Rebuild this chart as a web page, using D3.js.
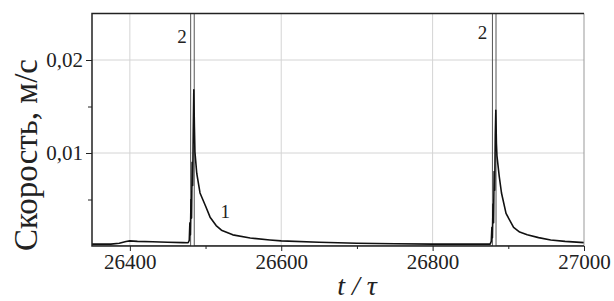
<!DOCTYPE html>
<html>
<head>
<meta charset="utf-8">
<script src="https://cdn.jsdelivr.net/npm/d3@7"></script>
<style>
  body { margin: 0; background: #fff; font-family: 'Liberation Serif', serif; }
</style>
</head>
<body>
<svg id="chart" width="614" height="301"></svg>
<script>
// curve 1 — velocity
const t1 = [26350, 26375, 26386, 26395, 26400, 26410, 26430, 26450, 26470, 26477,
  26478.5, 26479.3, 26480, 26480.8, 26481.5, 26482.3, 26483, 26483.8, 26484.5, 26485.3, 26486,
  26488.4, 26492.7, 26500, 26506, 26514, 26521, 26536, 26559, 26585, 26600, 26650, 26700, 26750,
  26800, 26850, 26876,
  26877.5, 26878.3, 26879, 26879.8, 26880.5, 26881.3, 26882, 26882.8, 26883.5, 26884.3, 26885,
  26888, 26891, 26897, 26907, 26915, 26925, 26940, 26956, 26975, 27000]
const v1 = [0.0002, 0.0002, 0.0003, 0.00048, 0.00055, 0.0005, 0.00045, 0.0004, 0.00036, 0.00035,
  0.0006, 0.0025, 0.0012, 0.005, 0.003, 0.009, 0.0065, 0.0125, 0.0168, 0.0128, 0.0101,
  0.0078, 0.0057, 0.0043, 0.0031, 0.0022, 0.0017, 0.0012, 0.00086, 0.00065, 0.00055, 0.0004, 0.0003, 0.00025,
  0.0002, 0.0002, 0.0002,
  0.0005, 0.002, 0.0009, 0.0045, 0.0025, 0.008, 0.006, 0.012, 0.0146, 0.011, 0.0097,
  0.0075, 0.0057, 0.0035, 0.002, 0.0015, 0.0012, 0.0009, 0.00065, 0.0005, 0.00036]

// curve 2 — off-scale spikes
const t2 = [26350, 26480.3, 26480.5, 26484.9, 26485.1, 26879, 26879.2, 26883.6, 26883.8, 27000]
const v2 = [0, 0, 0.1, 0.1, 0, 0, 0.1, 0.1, 0, 0]

const xMajor = [26400, 26600, 26800, 27000]
const xMinor = [26500, 26700, 26900]
const yMajor = [0.01, 0.02]
const yMinor = [0.005, 0.015]

const labels = [
  { text: '2', t: 26469, v: 0.0225 },
  { text: '2', t: 26866, v: 0.023 },
  { text: '1', t: 26526, v: 0.0037 }
]

const serif = 'Liberation Serif, serif'
const margin = { top: 13.5, right: 30, bottom: 55, left: 92 }
const width = 614
const height = 301

const x = d3.scaleLinear().domain([26350, 27000]).range([margin.left, width - margin.right])
const y = d3.scaleLinear().domain([0, 0.025]).range([height - margin.bottom, margin.top])

const svg = d3.select('#chart')
const fmt = d => d3.format('.2f')(d).replace('.', ',')

svg.append('defs').append('clipPath').attr('id', 'clip')
  .append('rect')
  .attr('x', x.range()[0]).attr('y', y.range()[1])
  .attr('width', x.range()[1] - x.range()[0]).attr('height', y.range()[0] - y.range()[1])

// grid
svg.append('g').selectAll('line').data(xMajor.slice(0, -1)).join('line')
  .attr('x1', d => x(d)).attr('x2', d => x(d))
  .attr('y1', y.range()[0]).attr('y2', y.range()[1])
  .attr('stroke', '#d4d4d4').attr('stroke-width', 1)
svg.append('g').selectAll('line').data(yMajor).join('line')
  .attr('x1', x.range()[0]).attr('x2', x.range()[1])
  .attr('y1', d => y(d)).attr('y2', d => y(d))
  .attr('stroke', '#d4d4d4').attr('stroke-width', 1)

// axes
const xAxis = svg.append('g').attr('transform', `translate(0,${y.range()[0]})`)
  .call(d3.axisBottom(x).tickValues(xMajor).tickSize(5).tickPadding(3).tickFormat(d3.format('d')))
  .attr('font-family', null)
xAxis.select('.domain').remove()
xAxis.selectAll('text').style('font-family', serif).style('font-size', '21px').attr('fill', '#222')
xAxis.selectAll('line').attr('stroke', '#222')
svg.append('g').attr('transform', `translate(0,${y.range()[0]})`)
  .call(d3.axisBottom(x).tickValues(xMinor).tickSize(3).tickFormat(''))
  .call(g => g.select('.domain').remove())
  .selectAll('line').attr('stroke', '#222')

const yAxis = svg.append('g').attr('transform', `translate(${x.range()[0]},0)`)
  .call(d3.axisLeft(y).tickValues(yMajor).tickSize(6).tickPadding(3).tickFormat(fmt))
  .attr('font-family', null)
yAxis.select('.domain').remove()
yAxis.selectAll('text').style('font-family', serif).style('font-size', '21px').attr('fill', '#222')
yAxis.selectAll('line').attr('stroke', '#222')
svg.append('g').attr('transform', `translate(${x.range()[0]},0)`)
  .call(d3.axisLeft(y).tickValues(yMinor).tickSize(4).tickFormat(''))
  .call(g => g.select('.domain').remove())
  .selectAll('line').attr('stroke', '#222')

// curves
const line = d3.line().x(d => x(d[0])).y(d => y(d[1]))
const plot = svg.append('g').attr('clip-path', 'url(#clip)')
plot.append('path').datum(d3.zip(t2, v2))
  .attr('d', line).attr('fill', 'none').attr('stroke', '#555').attr('stroke-width', 1)
plot.append('path').datum(d3.zip(t1, v1))
  .attr('d', line).attr('fill', 'none').attr('stroke', '#111').attr('stroke-width', 1.6)
  .attr('stroke-linejoin', 'round')

// frame
const [x0, x1] = x.range()
const [yb, yt] = y.range()
svg.append('line').attr('x1', x1).attr('x2', x1).attr('y1', yt).attr('y2', yb)
  .attr('stroke', '#999').attr('stroke-width', 1)
svg.append('path').attr('d', `M${x1},${yt}H${x0}V${yb}H${x1}`)
  .attr('fill', 'none').attr('stroke', '#222').attr('stroke-width', 1.5)

// curve labels
svg.append('g').selectAll('text').data(labels).join('text')
  .attr('x', d => x(d.t)).attr('y', d => y(d.v))
  .attr('dy', '0.35em').attr('text-anchor', 'middle')
  .style('font-family', serif).style('font-size', '19px').attr('fill', '#222')
  .text(d => d.text)

// titles
svg.append('text')
  .attr('transform', 'translate(37,155) rotate(-90)')
  .attr('text-anchor', 'middle')
  .style('font-family', serif).style('font-size', '33px').attr('fill', '#222')
  .text('Скорость, м/с')

svg.append('text')
  .attr('x', 357).attr('y', 295).attr('text-anchor', 'middle')
  .style('font-family', serif).style('font-size', '28px').style('font-style', 'italic').attr('fill', '#222')
  .text('t / τ')
</script>
</body>
</html>
